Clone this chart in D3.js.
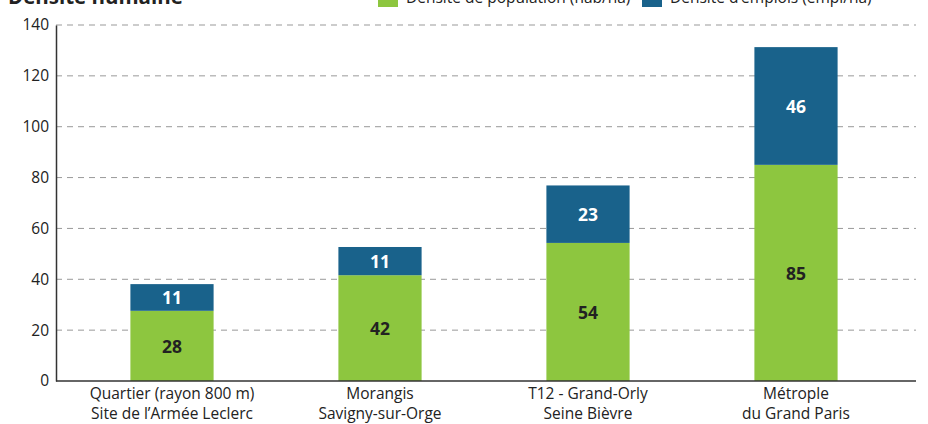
<!DOCTYPE html>
<html><head><meta charset="utf-8">
<script src="https://cdn.jsdelivr.net/npm/d3@7"></script>
<style>body{margin:0;background:#fff}svg{display:block;font-family:"Open Sans","Noto Sans",sans-serif}</style>
</head><body><svg id="c" width="928" height="424"></svg>
<script>
const categories = [["Quartier (rayon 800 m)","Site de l\u2019Armée Leclerc"],["Morangis","Savigny-sur-Orge"],["T12 - Grand-Orly","Seine Bièvre"],["Métrople","du Grand Paris"]];
const population = [27.6, 41.6, 54.3, 85.0];
const emplois = [10.5, 11.1, 22.6, 46.3];
const yTicks = [0,20,40,60,80,100,120,140];
const seriesNames = ["Densité de population (hab/ha)","Densité d\u2019emplois (empl/ha)"];
const colors = ["#8dc63f","#19628b"];

const svg = d3.select("#c");
const x = d3.scaleBand().domain(d3.range(categories.length)).range([68,900]).paddingInner(0.6).paddingOuter(0.3);
const y = d3.scaleLinear().domain([0,140]).range([381,25]);

// grid
svg.append("g").selectAll("line").data(yTicks.filter(d=>d>0)).join("line")
  .attr("x1",56).attr("x2",916).attr("y1",d=>y(d)).attr("y2",d=>y(d))
  .attr("stroke","#999").attr("stroke-width",1).attr("stroke-dasharray","6,5");

// y axis
const ya = svg.append("g").attr("transform","translate(56,0)").call(d3.axisLeft(y).tickValues(yTicks).tickSize(0).tickPadding(7));
ya.select(".domain").attr("stroke","#333").attr("stroke-width",1.5);
ya.selectAll("text").attr("font-size",15.5).attr("fill","#222").attr("font-family","'Open Sans',sans-serif");

// bars
const g = svg.append("g");
categories.forEach((c,i)=>{
  const p = population[i], e = emplois[i];
  g.append("rect").attr("x",x(i)).attr("width",x.bandwidth()).attr("y",y(p)).attr("height",y(0)-y(p)).attr("fill",colors[0]);
  g.append("rect").attr("x",x(i)).attr("width",x.bandwidth()).attr("y",y(p+e)).attr("height",y(p)-y(p+e)).attr("fill",colors[1]);
  g.append("text").attr("x",x(i)+x.bandwidth()/2).attr("y",(y(0)+y(p))/2).attr("dy","0.38em").attr("text-anchor","middle")
    .attr("font-size",17.5).attr("font-weight","bold").attr("fill","#222").text(Math.round(p));
  g.append("text").attr("x",x(i)+x.bandwidth()/2).attr("y",(y(p)+y(p+e))/2).attr("dy","0.38em").attr("text-anchor","middle")
    .attr("font-size",17.5).attr("font-weight","bold").attr("fill","#fff").text(Math.round(e));
  c.forEach((line,j)=>{
    svg.append("text").attr("x",x(i)+x.bandwidth()/2).attr("y",399+j*19.5).attr("text-anchor","middle")
      .attr("font-size",15.5).attr("fill","#222").text(line);
  });
});

// x axis line
svg.append("line").attr("x1",56).attr("x2",916).attr("y1",381).attr("y2",381).attr("stroke","#333").attr("stroke-width",1.5);

// title
svg.append("text").attr("x",8).attr("y",4).attr("font-size",20.5).attr("font-weight","bold").attr("fill","#222").text("Densité humaine");

// legend
const lx = [378,642];
seriesNames.forEach((s,i)=>{
  svg.append("rect").attr("x",lx[i]).attr("y",-12).attr("width",20).attr("height",19).attr("fill",colors[i]);
  svg.append("text").attr("x",lx[i]+28).attr("y",3).attr("font-size",15.5).attr("fill","#222").text(s);
});
</script></body></html>
